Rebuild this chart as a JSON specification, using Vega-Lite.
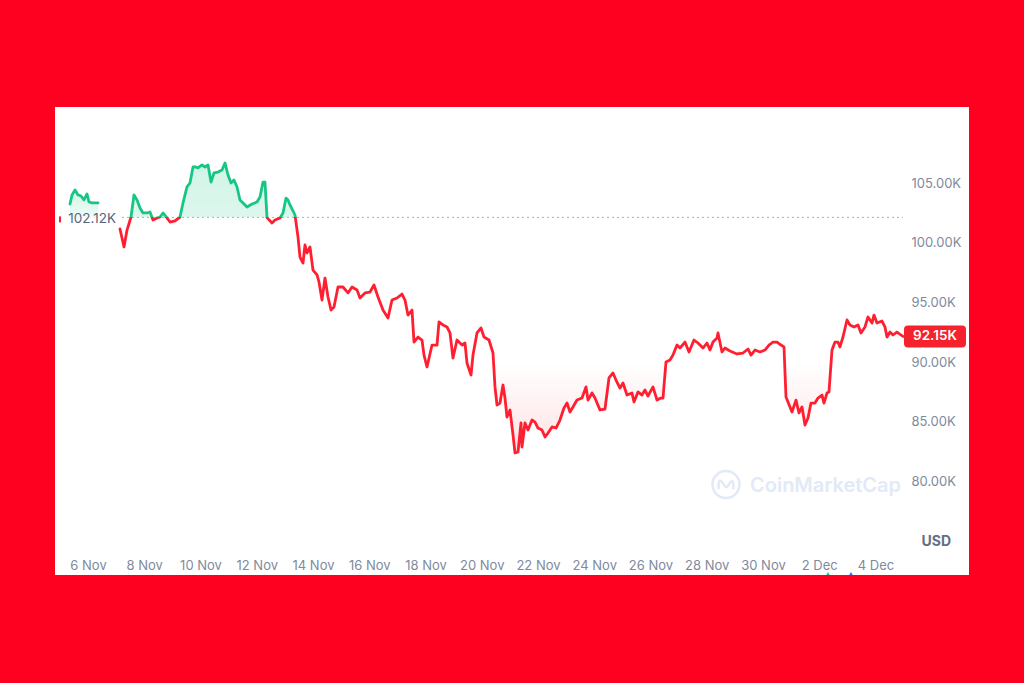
{
  "$schema": "https://vega.github.io/schema/vega-lite/v6.json",
  "width": 914,
  "height": 468,
  "autosize": {"type": "none"},
  "padding": {"left": 55, "top": 107, "right": 55, "bottom": 108},
  "background": "#fe0020",
  "config": {"font": "Inter", "view": {"fill": "#ffffff", "stroke": null}},
  "datasets": {
    "seg1": [
      {"t": "2025-11-05T08:38", "price": 103240},
      {"t": "2025-11-05T10:21", "price": 104000},
      {"t": "2025-11-05T12:55", "price": 104410},
      {"t": "2025-11-05T15:28", "price": 104000},
      {"t": "2025-11-05T18:02", "price": 103910},
      {"t": "2025-11-05T20:35", "price": 103580},
      {"t": "2025-11-05T23:09", "price": 104080},
      {"t": "2025-11-06T00:51", "price": 103410},
      {"t": "2025-11-06T03:25", "price": 103330},
      {"t": "2025-11-06T08:32", "price": 103330}
    ],
    "price": [
      {"t": "2025-11-07T03:18", "price": 101150},
      {"t": "2025-11-07T06:43", "price": 99640},
      {"t": "2025-11-07T09:17", "price": 101060},
      {"t": "2025-11-07T12:42", "price": 102150},
      {"t": "2025-11-07T15:15", "price": 104000},
      {"t": "2025-11-07T17:49", "price": 103580},
      {"t": "2025-11-07T20:22", "price": 102910},
      {"t": "2025-11-07T22:56", "price": 102490},
      {"t": "2025-11-08T02:21", "price": 102490},
      {"t": "2025-11-08T04:54", "price": 102570},
      {"t": "2025-11-08T07:28", "price": 101900},
      {"t": "2025-11-08T10:53", "price": 102070},
      {"t": "2025-11-08T13:26", "price": 102150},
      {"t": "2025-11-08T16:00", "price": 102490},
      {"t": "2025-11-08T19:25", "price": 102070},
      {"t": "2025-11-08T21:58", "price": 101730},
      {"t": "2025-11-09T02:14", "price": 101820},
      {"t": "2025-11-09T06:30", "price": 102150},
      {"t": "2025-11-09T09:04", "price": 103330},
      {"t": "2025-11-09T12:29", "price": 104670},
      {"t": "2025-11-09T15:02", "price": 105000},
      {"t": "2025-11-09T17:36", "price": 106340},
      {"t": "2025-11-09T20:10", "price": 106340},
      {"t": "2025-11-09T21:52", "price": 106260},
      {"t": "2025-11-10T01:17", "price": 106510},
      {"t": "2025-11-10T03:50", "price": 106340},
      {"t": "2025-11-10T06:24", "price": 106510},
      {"t": "2025-11-10T08:58", "price": 105080},
      {"t": "2025-11-10T11:31", "price": 105840},
      {"t": "2025-11-10T14:56", "price": 105920},
      {"t": "2025-11-10T18:21", "price": 106090},
      {"t": "2025-11-10T20:54", "price": 106680},
      {"t": "2025-11-10T23:28", "price": 105670},
      {"t": "2025-11-11T02:02", "price": 105000},
      {"t": "2025-11-11T04:35", "price": 105250},
      {"t": "2025-11-11T07:09", "price": 104670},
      {"t": "2025-11-11T09:42", "price": 103580},
      {"t": "2025-11-11T12:16", "price": 103330},
      {"t": "2025-11-11T15:41", "price": 102990},
      {"t": "2025-11-11T19:57", "price": 103240},
      {"t": "2025-11-12T00:13", "price": 103410},
      {"t": "2025-11-12T02:46", "price": 103830},
      {"t": "2025-11-12T05:20", "price": 105080},
      {"t": "2025-11-12T07:02", "price": 105080},
      {"t": "2025-11-12T08:45", "price": 102100},
      {"t": "2025-11-12T13:01", "price": 101650},
      {"t": "2025-11-12T15:34", "price": 101900},
      {"t": "2025-11-12T19:50", "price": 102070},
      {"t": "2025-11-12T22:24", "price": 102490},
      {"t": "2025-11-13T00:58", "price": 103740},
      {"t": "2025-11-13T02:40", "price": 103580},
      {"t": "2025-11-13T04:22", "price": 103160},
      {"t": "2025-11-13T08:38", "price": 102320},
      {"t": "2025-11-13T11:12", "price": 100480},
      {"t": "2025-11-13T12:54", "price": 98800},
      {"t": "2025-11-13T15:28", "price": 98300},
      {"t": "2025-11-13T17:10", "price": 99810},
      {"t": "2025-11-13T18:53", "price": 99140},
      {"t": "2025-11-13T21:26", "price": 99640},
      {"t": "2025-11-14T00:00", "price": 97710},
      {"t": "2025-11-14T03:25", "price": 97300},
      {"t": "2025-11-14T05:07", "price": 96710},
      {"t": "2025-11-14T07:41", "price": 95200},
      {"t": "2025-11-14T10:14", "price": 97040},
      {"t": "2025-11-14T12:48", "price": 95450},
      {"t": "2025-11-14T15:22", "price": 94360},
      {"t": "2025-11-14T17:55", "price": 94620},
      {"t": "2025-11-14T21:20", "price": 96290},
      {"t": "2025-11-15T01:36", "price": 96290},
      {"t": "2025-11-15T05:52", "price": 95790},
      {"t": "2025-11-15T09:17", "price": 96290},
      {"t": "2025-11-15T13:33", "price": 96040},
      {"t": "2025-11-15T16:06", "price": 95370},
      {"t": "2025-11-15T20:22", "price": 95790},
      {"t": "2025-11-16T00:38", "price": 95870},
      {"t": "2025-11-16T04:03", "price": 96460},
      {"t": "2025-11-16T07:28", "price": 95450},
      {"t": "2025-11-16T11:44", "price": 94360},
      {"t": "2025-11-16T16:00", "price": 93690},
      {"t": "2025-11-16T19:25", "price": 95200},
      {"t": "2025-11-16T23:41", "price": 95370},
      {"t": "2025-11-17T03:57", "price": 95700},
      {"t": "2025-11-17T06:30", "price": 95200},
      {"t": "2025-11-17T09:04", "price": 93940},
      {"t": "2025-11-17T12:29", "price": 94360},
      {"t": "2025-11-17T14:11", "price": 91680},
      {"t": "2025-11-17T17:36", "price": 92100},
      {"t": "2025-11-17T21:01", "price": 91850},
      {"t": "2025-11-17T22:43", "price": 90590},
      {"t": "2025-11-18T01:17", "price": 89590},
      {"t": "2025-11-18T05:33", "price": 91430},
      {"t": "2025-11-18T09:49", "price": 91430},
      {"t": "2025-11-18T11:31", "price": 93360},
      {"t": "2025-11-18T14:56", "price": 93110},
      {"t": "2025-11-18T18:21", "price": 92940},
      {"t": "2025-11-18T20:54", "price": 92440},
      {"t": "2025-11-18T23:28", "price": 90340},
      {"t": "2025-11-19T02:53", "price": 91850},
      {"t": "2025-11-19T07:09", "price": 91430},
      {"t": "2025-11-19T09:42", "price": 91600},
      {"t": "2025-11-19T11:25", "price": 89930},
      {"t": "2025-11-19T14:50", "price": 88920},
      {"t": "2025-11-19T16:32", "price": 90590},
      {"t": "2025-11-19T19:57", "price": 92440},
      {"t": "2025-11-19T23:22", "price": 92860},
      {"t": "2025-11-20T01:55", "price": 92100},
      {"t": "2025-11-20T06:11", "price": 91850},
      {"t": "2025-11-20T09:36", "price": 90760},
      {"t": "2025-11-20T11:18", "price": 87920},
      {"t": "2025-11-20T13:01", "price": 86410},
      {"t": "2025-11-20T15:34", "price": 86570},
      {"t": "2025-11-20T18:08", "price": 88080},
      {"t": "2025-11-20T19:50", "price": 86990},
      {"t": "2025-11-20T21:33", "price": 85400},
      {"t": "2025-11-21T00:06", "price": 85990},
      {"t": "2025-11-21T02:40", "price": 83900},
      {"t": "2025-11-21T04:22", "price": 82390},
      {"t": "2025-11-21T06:56", "price": 82470},
      {"t": "2025-11-21T09:30", "price": 84900},
      {"t": "2025-11-21T10:21", "price": 82890},
      {"t": "2025-11-21T12:54", "price": 84900},
      {"t": "2025-11-21T15:28", "price": 84310},
      {"t": "2025-11-21T18:53", "price": 85150},
      {"t": "2025-11-21T21:26", "price": 84980},
      {"t": "2025-11-22T00:00", "price": 84480},
      {"t": "2025-11-22T03:25", "price": 84310},
      {"t": "2025-11-22T05:58", "price": 83730},
      {"t": "2025-11-22T08:32", "price": 84060},
      {"t": "2025-11-22T11:57", "price": 84570},
      {"t": "2025-11-22T15:22", "price": 84480},
      {"t": "2025-11-22T18:46", "price": 85150},
      {"t": "2025-11-22T22:11", "price": 86160},
      {"t": "2025-11-23T00:45", "price": 86570},
      {"t": "2025-11-23T03:18", "price": 85820},
      {"t": "2025-11-23T05:52", "price": 86240},
      {"t": "2025-11-23T09:17", "price": 86820},
      {"t": "2025-11-23T13:33", "price": 86990},
      {"t": "2025-11-23T16:58", "price": 87920},
      {"t": "2025-11-23T18:40", "price": 86820},
      {"t": "2025-11-23T22:05", "price": 87410},
      {"t": "2025-11-24T00:38", "price": 86990},
      {"t": "2025-11-24T04:54", "price": 85990},
      {"t": "2025-11-24T09:10", "price": 86070},
      {"t": "2025-11-24T12:35", "price": 88670},
      {"t": "2025-11-24T16:00", "price": 89090},
      {"t": "2025-11-24T18:34", "price": 88500},
      {"t": "2025-11-24T21:58", "price": 87830},
      {"t": "2025-11-25T00:32", "price": 88250},
      {"t": "2025-11-25T03:57", "price": 87240},
      {"t": "2025-11-25T08:13", "price": 87410},
      {"t": "2025-11-25T09:55", "price": 86660},
      {"t": "2025-11-25T13:20", "price": 87500},
      {"t": "2025-11-25T16:45", "price": 87240},
      {"t": "2025-11-25T19:18", "price": 87660},
      {"t": "2025-11-25T21:52", "price": 87160},
      {"t": "2025-11-26T02:08", "price": 87920},
      {"t": "2025-11-26T05:33", "price": 86820},
      {"t": "2025-11-26T08:58", "price": 86990},
      {"t": "2025-11-26T10:40", "price": 86990},
      {"t": "2025-11-26T13:14", "price": 90010},
      {"t": "2025-11-26T16:38", "price": 90180},
      {"t": "2025-11-26T19:12", "price": 90590},
      {"t": "2025-11-26T22:37", "price": 91430},
      {"t": "2025-11-27T01:10", "price": 91180},
      {"t": "2025-11-27T05:26", "price": 91680},
      {"t": "2025-11-27T08:51", "price": 90850},
      {"t": "2025-11-27T13:07", "price": 91850},
      {"t": "2025-11-27T16:32", "price": 91600},
      {"t": "2025-11-27T20:48", "price": 91180},
      {"t": "2025-11-28T00:13", "price": 91600},
      {"t": "2025-11-28T02:46", "price": 91010},
      {"t": "2025-11-28T05:20", "price": 91680},
      {"t": "2025-11-28T08:45", "price": 92020},
      {"t": "2025-11-28T09:36", "price": 92440},
      {"t": "2025-11-28T13:01", "price": 90850},
      {"t": "2025-11-28T15:34", "price": 91180},
      {"t": "2025-11-28T19:50", "price": 90930},
      {"t": "2025-11-29T01:49", "price": 90680},
      {"t": "2025-11-29T06:56", "price": 90760},
      {"t": "2025-11-29T11:12", "price": 91100},
      {"t": "2025-11-29T13:46", "price": 90590},
      {"t": "2025-11-29T17:10", "price": 91010},
      {"t": "2025-11-29T21:26", "price": 90850},
      {"t": "2025-11-30T01:42", "price": 91010},
      {"t": "2025-11-30T05:07", "price": 91430},
      {"t": "2025-11-30T08:32", "price": 91680},
      {"t": "2025-11-30T11:57", "price": 91680},
      {"t": "2025-11-30T15:22", "price": 91430},
      {"t": "2025-11-30T17:55", "price": 91270},
      {"t": "2025-11-30T19:38", "price": 87080},
      {"t": "2025-11-30T23:02", "price": 86240},
      {"t": "2025-12-01T00:45", "price": 85820},
      {"t": "2025-12-01T04:10", "price": 86820},
      {"t": "2025-12-01T06:43", "price": 85740},
      {"t": "2025-12-01T09:17", "price": 86240},
      {"t": "2025-12-01T11:50", "price": 84730},
      {"t": "2025-12-01T14:24", "price": 85320},
      {"t": "2025-12-01T16:58", "price": 86570},
      {"t": "2025-12-01T20:22", "price": 86570},
      {"t": "2025-12-01T22:56", "price": 86990},
      {"t": "2025-12-02T02:21", "price": 87240},
      {"t": "2025-12-02T04:03", "price": 86570},
      {"t": "2025-12-02T06:37", "price": 87410},
      {"t": "2025-12-02T08:19", "price": 87500},
      {"t": "2025-12-02T10:53", "price": 91010},
      {"t": "2025-12-02T13:26", "price": 91680},
      {"t": "2025-12-02T16:00", "price": 91680},
      {"t": "2025-12-02T17:42", "price": 91270},
      {"t": "2025-12-02T20:16", "price": 92100},
      {"t": "2025-12-02T23:41", "price": 93530},
      {"t": "2025-12-03T02:14", "price": 93110},
      {"t": "2025-12-03T05:39", "price": 92940},
      {"t": "2025-12-03T09:04", "price": 93110},
      {"t": "2025-12-03T11:38", "price": 92440},
      {"t": "2025-12-03T15:02", "price": 92940},
      {"t": "2025-12-03T17:36", "price": 93780},
      {"t": "2025-12-03T21:01", "price": 93270},
      {"t": "2025-12-03T22:43", "price": 93940},
      {"t": "2025-12-04T01:17", "price": 93270},
      {"t": "2025-12-04T05:33", "price": 93440},
      {"t": "2025-12-04T08:06", "price": 92940},
      {"t": "2025-12-04T09:49", "price": 92100},
      {"t": "2025-12-04T12:22", "price": 92520},
      {"t": "2025-12-04T14:56", "price": 92270},
      {"t": "2025-12-04T18:21", "price": 92520},
      {"t": "2025-12-04T21:46", "price": 92270},
      {"t": "2025-12-04T23:28", "price": 92150}
    ],
    "base": [{"t": "2025-11-07T05:00", "t2": "2025-12-04T23:28", "price": 102120, "label": "102.12K"}],
    "last": [{"t": "2025-12-04T23:28", "price": 92150, "label": "92.15K"}],
    "events": [{"t": "2025-12-02T07:28", "price": 72170, "kind": "a"}, {"t": "2025-12-03T03:06", "price": 72170, "kind": "b"}],
    "wmtext": [{"t": "2025-11-29T12:54", "price": 79620, "label": "CoinMarketCap"}],
    "wmlogo": [{"t": "2025-11-28T16:25", "price": 79750}]
  },
  "encoding": {
    "x": {
      "field": "t",
      "type": "temporal",
      "scale": {"domain": [{"year": 2025, "month": 11, "date": 4, "hours": 19, "minutes": 50}, {"year": 2025, "month": 12, "date": 7, "hours": 7, "minutes": 48}]},
      "axis": {
        "orient": "bottom",
        "offset": -19,
        "values": [
          {"year": 2025, "month": 11, "date": 6}, {"year": 2025, "month": 11, "date": 8},
          {"year": 2025, "month": 11, "date": 10}, {"year": 2025, "month": 11, "date": 12},
          {"year": 2025, "month": 11, "date": 14}, {"year": 2025, "month": 11, "date": 16},
          {"year": 2025, "month": 11, "date": 18}, {"year": 2025, "month": 11, "date": 20},
          {"year": 2025, "month": 11, "date": 22}, {"year": 2025, "month": 11, "date": 24},
          {"year": 2025, "month": 11, "date": 26}, {"year": 2025, "month": 11, "date": 28},
          {"year": 2025, "month": 11, "date": 30}, {"year": 2025, "month": 12, "date": 2},
          {"year": 2025, "month": 12, "date": 4}
        ],
        "format": "%-d %b",
        "domain": false,
        "ticks": false,
        "grid": false,
        "labelPadding": 3,
        "labelFontSize": 13,
        "labelColor": "#808a9d",
        "labelFlush": false,
        "labelOverlap": false,
        "title": null
      }
    },
    "y": {
      "field": "price",
      "type": "quantitative",
      "scale": {"domain": [72170, 111365], "zero": false, "nice": false},
      "axis": {
        "orient": "right",
        "offset": -64,
        "values": [80000, 85000, 90000, 95000, 100000, 105000],
        "labelExpr": "format(datum.value / 1000, '.2f') + 'K'",
        "domain": false,
        "ticks": false,
        "grid": false,
        "labelPadding": 6,
        "labelFontSize": 13,
        "labelColor": "#808a9d",
        "labelBaseline": "middle",
        "title": "USD",
        "titleAngle": 0,
        "titleX": 16,
        "titleY": 434,
        "titleAlign": "left",
        "titleBaseline": "middle",
        "titleFontSize": 14,
        "titleFontWeight": "bold",
        "titleColor": "#616e85"
      }
    }
  },
  "layer": [
    {
      "data": {"name": "wmtext"},
      "mark": {"type": "text", "align": "left", "baseline": "middle", "fontSize": 20, "fontWeight": 600, "color": "#e2e9f7"},
      "encoding": {"text": {"field": "label"}}
    },
    {
      "data": {"name": "wmlogo"},
      "mark": {"type": "point", "shape": "circle", "size": 729, "filled": false, "stroke": "#e2e9f7", "strokeWidth": 2.5, "opacity": 1}
    },
    {
      "data": {"name": "wmlogo"},
      "mark": {"type": "point", "shape": "M-0.55,0.35 L-0.55,-0.1 Q-0.5,-0.4 -0.3,-0.2 L-0.05,0.15 Q0.05,0.25 0.15,0.1 L0.35,-0.2 Q0.5,-0.35 0.55,-0.1 L0.55,0.35", "size": 729, "filled": false, "stroke": "#e2e9f7", "strokeWidth": 2.5, "opacity": 1}
    },
    {
      "data": {"name": "price"},
      "mark": {
        "type": "area",
        "fill": {
          "gradient": "linear", "x1": 0, "y1": 0, "x2": 0, "y2": 1,
          "stops": [
            {"offset": 0, "color": "rgba(22,199,132,0.2)"},
            {"offset": 0.1877, "color": "rgba(22,199,132,0.14)"},
            {"offset": 0.1877, "color": "rgba(245,34,45,0)"},
            {"offset": 0.6867, "color": "rgba(245,34,45,0)"},
            {"offset": 1, "color": "rgba(245,34,45,0.13)"}
          ]
        }
      },
      "encoding": {"y2": {"datum": 102120}}
    },
    {
      "data": {"name": "seg1"},
      "mark": {
        "type": "area",
        "fill": {
          "gradient": "linear", "x1": 0, "y1": 0, "x2": 0, "y2": 1,
          "stops": [
            {"offset": 0, "color": "rgba(22,199,132,0.2)"},
            {"offset": 1, "color": "rgba(22,199,132,0.06)"}
          ]
        }
      },
      "encoding": {"y2": {"datum": 102120}}
    },
    {
      "data": {"name": "base"},
      "mark": {"type": "rule", "color": "#a6adbf", "strokeWidth": 1, "strokeDash": [2, 3]},
      "encoding": {"x2": {"field": "t2"}}
    },
    {
      "data": {"name": "seg1"},
      "mark": {"type": "line", "color": "#16c784", "strokeWidth": 2.8, "strokeJoin": "round", "strokeCap": "round"}
    },
    {
      "data": {"name": "price"},
      "mark": {
        "type": "line",
        "strokeWidth": 2.8,
        "strokeJoin": "round",
        "strokeCap": "round",
        "stroke": {
          "gradient": "linear", "x1": 0, "y1": 0, "x2": 0, "y2": 1,
          "stops": [
            {"offset": 0, "color": "#16c784"},
            {"offset": 0.1877, "color": "#16c784"},
            {"offset": 0.1877, "color": "#ff1f30"},
            {"offset": 1, "color": "#ff1f30"}
          ]
        }
      }
    },
    {
      "data": {"name": "base"},
      "mark": {"type": "text", "align": "right", "baseline": "middle", "dx": -6, "dy": 2, "fontSize": 13.5, "color": "#58667e"},
      "encoding": {"text": {"field": "label"}}
    },
    {
      "data": {"name": "base"},
      "mark": {"type": "tick", "orient": "vertical", "size": 6, "thickness": 2, "color": "#ff1f30", "xOffset": -62, "yOffset": 2, "opacity": 1}
    },
    {
      "data": {"name": "last"},
      "mark": {
        "type": "point",
        "shape": "M-0.871,-0.355 L0.871,-0.355 Q1,-0.355 1,-0.226 L1,0.226 Q1,0.355 0.871,0.355 L-0.871,0.355 Q-1,0.355 -1,0.226 L-1,-0.226 Q-1,-0.355 -0.871,-0.355 Z",
        "size": 3844,
        "filled": true,
        "color": "#f5222d",
        "opacity": 1,
        "strokeWidth": 0,
        "xOffset": 32
      }
    },
    {
      "data": {"name": "last"},
      "mark": {"type": "text", "align": "center", "baseline": "middle", "dx": 32, "fontSize": 13.5, "fontWeight": 600, "color": "#ffffff"},
      "encoding": {"text": {"field": "label"}}
    },
    {
      "data": {"name": "events"},
      "mark": {"type": "point", "shape": "triangle-up", "size": 45, "filled": true, "opacity": 1, "clip": true},
      "encoding": {
        "color": {"field": "kind", "type": "nominal", "scale": {"domain": ["a", "b"], "range": ["#16c784", "#3861fb"]}, "legend": null}
      }
    }
  ]
}
